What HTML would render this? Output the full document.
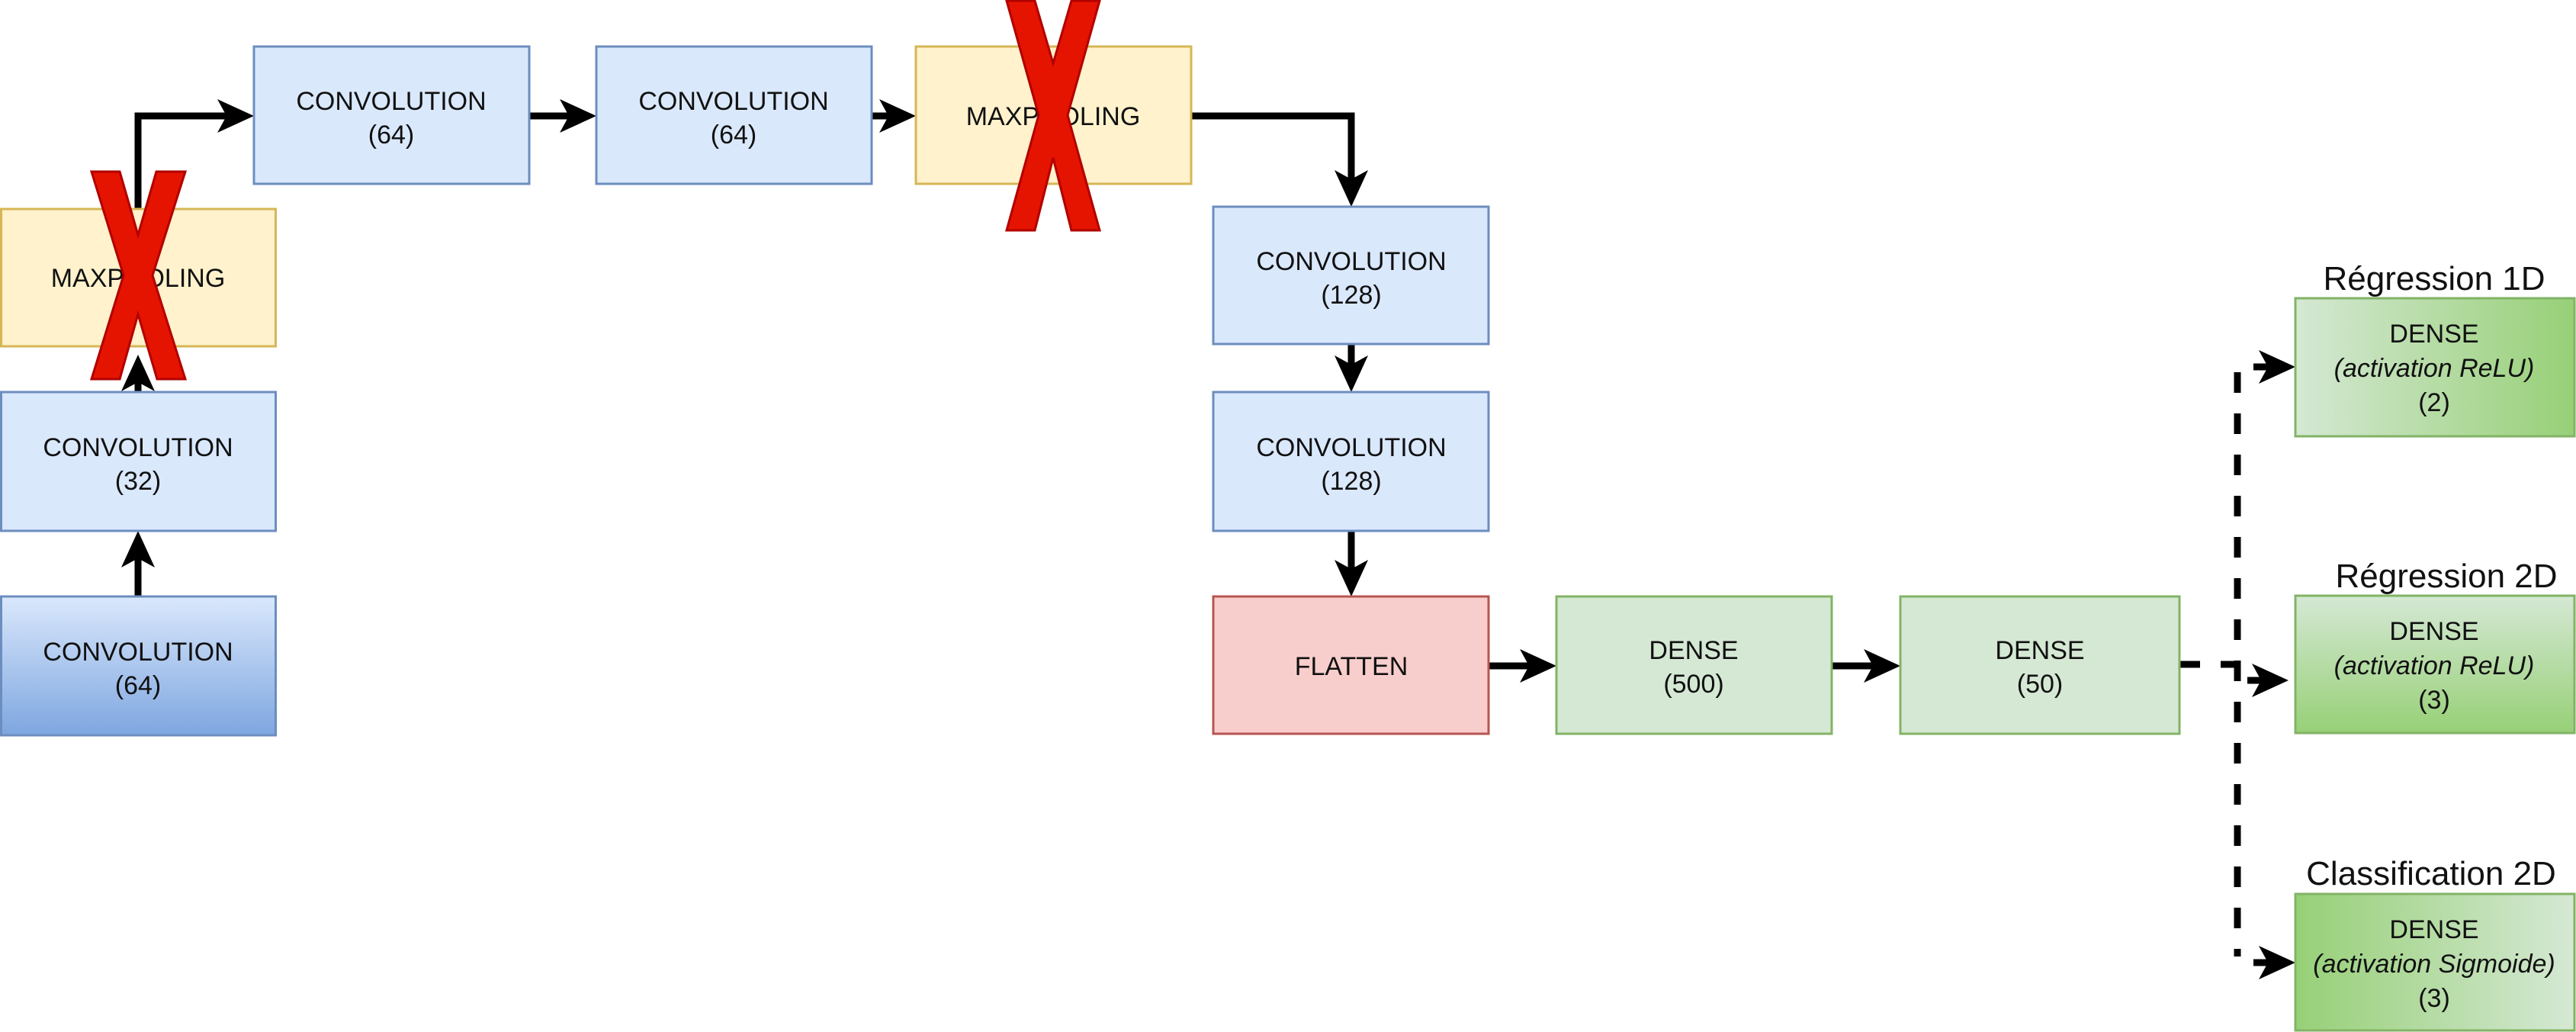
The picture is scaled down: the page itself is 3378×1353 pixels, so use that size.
<!DOCTYPE html>
<html><head><meta charset="utf-8"><style>
html,body{margin:0;padding:0;background:#fff;}
svg{display:block;}
text{font-family:"Liberation Sans",sans-serif;fill:#111;}
</style></head><body>
<svg width="3378" height="1353" viewBox="0 0 3378 1353" xmlns="http://www.w3.org/2000/svg">
<defs>
<linearGradient id="gb" x1="0" y1="0" x2="0" y2="1"><stop offset="0" stop-color="#dae8fc"/><stop offset="1" stop-color="#7ea6e0"/></linearGradient>
<linearGradient id="g1" x1="0" y1="0" x2="1" y2="0"><stop offset="0" stop-color="#d5e8d4"/><stop offset="1" stop-color="#97d077"/></linearGradient>
<linearGradient id="g2" x1="0" y1="0" x2="0" y2="1"><stop offset="0" stop-color="#d5e8d4"/><stop offset="1" stop-color="#97d077"/></linearGradient>
<linearGradient id="g3" x1="0" y1="0" x2="1" y2="0"><stop offset="0" stop-color="#97d077"/><stop offset="1" stop-color="#d5e8d4"/></linearGradient>
</defs>

<!-- connectors -->
<g stroke="#000" stroke-width="9" fill="none">
<path d="M181,782 V706"/>
<path d="M181,514 V475"/>
<path d="M181,274 V152 H299"/>
<path d="M694,152 H748"/>
<path d="M1143,152 H1167"/>
<path d="M1562,152 H1772 V237"/>
<path d="M1772,451 V480"/>
<path d="M1772,696 V748"/>
<path d="M1952,873 H2007"/>
<path d="M2402,873 H2458"/>
<path d="M2858,871 H2934 M2934,488 V1254" stroke-dasharray="27,27"/>
<path d="M2955,481 H2976"/>
<path d="M2947,892 H2967"/>
<path d="M2955,1262 H2976"/>
</g>
<g fill="#000">
<path d="M181,696 l-22,48 l22,-12 l22,12z"/>
<path d="M181,465 l-22,48 l22,-12 l22,12z"/>
<path d="M333,152 l-48,-22 l12,22 l-12,22z"/>
<path d="M782,152 l-48,-22 l12,22 l-12,22z"/>
<path d="M1201,152 l-48,-22 l12,22 l-12,22z"/>
<path d="M1772,271 l-22,-48 l22,12 l22,-12z"/>
<path d="M1772,514 l-22,-48 l22,12 l22,-12z"/>
<path d="M1772,782 l-22,-48 l22,12 l22,-12z"/>
<path d="M2041,873 l-48,-22 l12,22 l-12,22z"/>
<path d="M2492,873 l-48,-22 l12,22 l-12,22z"/>
<path d="M3010,481 l-48,-22 l12,22 l-12,22z"/>
<path d="M3001,892 l-48,-22 l12,22 l-12,22z"/>
<path d="M3010,1262 l-48,-22 l12,22 l-12,22z"/>
</g>

<!-- boxes -->
<g stroke-width="3">
<rect x="1.5" y="782" width="360" height="182" fill="url(#gb)" stroke="#6c8ebf"/>
<rect x="1.5" y="514" width="360" height="182" fill="#dae8fc" stroke="#6c8ebf"/>
<rect x="1.5" y="274" width="360" height="180" fill="#fff2cc" stroke="#d6b656"/>
<rect x="333" y="61" width="361" height="180" fill="#dae8fc" stroke="#6c8ebf"/>
<rect x="782" y="61" width="361" height="180" fill="#dae8fc" stroke="#6c8ebf"/>
<rect x="1201" y="61" width="361" height="180" fill="#fff2cc" stroke="#d6b656"/>
<rect x="1591" y="271" width="361" height="180" fill="#dae8fc" stroke="#6c8ebf"/>
<rect x="1591" y="514" width="361" height="182" fill="#dae8fc" stroke="#6c8ebf"/>
<rect x="1591" y="782" width="361" height="180" fill="#f8cecc" stroke="#b85450"/>
<rect x="2041" y="782" width="361" height="180" fill="#d5e8d4" stroke="#82b366"/>
<rect x="2492" y="782" width="366" height="180" fill="#d5e8d4" stroke="#82b366"/>
<rect x="3010" y="391" width="366" height="181" fill="url(#g1)" stroke="#82b366"/>
<rect x="3010" y="781" width="366" height="180" fill="url(#g2)" stroke="#82b366"/>
<rect x="3010" y="1172" width="366" height="179" fill="url(#g3)" stroke="#82b366"/>
</g>

<!-- text -->
<g font-size="34" text-anchor="middle">
<text x="181" y="866">CONVOLUTION</text><text x="181" y="910">(64)</text>
<text x="181" y="598">CONVOLUTION</text><text x="181" y="642">(32)</text>
<text x="181" y="376">MAXPOOLING</text>
<text x="513" y="144">CONVOLUTION</text><text x="513" y="188">(64)</text>
<text x="962" y="144">CONVOLUTION</text><text x="962" y="188">(64)</text>
<text x="1381" y="164">MAXPOOLING</text>
<text x="1772" y="354">CONVOLUTION</text><text x="1772" y="398">(128)</text>
<text x="1772" y="598">CONVOLUTION</text><text x="1772" y="642">(128)</text>
<text x="1772" y="885">FLATTEN</text>
<text x="2221" y="864">DENSE</text><text x="2221" y="908">(500)</text>
<text x="2675" y="864">DENSE</text><text x="2675" y="908">(50)</text>
<text x="3192" y="449">DENSE</text><text x="3192" y="494" font-style="italic">(activation ReLU)</text><text x="3192" y="539">(2)</text>
<text x="3192" y="839">DENSE</text><text x="3192" y="884" font-style="italic">(activation ReLU)</text><text x="3192" y="929">(3)</text>
<text x="3192" y="1230">DENSE</text><text x="3192" y="1275" font-style="italic">(activation Sigmoide)</text><text x="3192" y="1320">(3)</text>
</g>
<g font-size="44" text-anchor="middle">
<text x="3192" y="380">Régression 1D</text>
<text x="3208" y="770">Régression 2D</text>
<text x="3188" y="1160">Classification 2D</text>
</g>

<!-- red X -->
<g fill="#e51400" stroke="#b20000" stroke-width="3">
<polygon points="1320,1 1357,1 1381,83 1405,1 1442,1 1400,151 1442,302 1405,302 1381,207 1357,302 1320,302 1362,151"/>
<polygon points="120,225 157,225 181,308 205,225 243,225 200,361 243,497 206,497 181,412 157,497 120,497 162,361"/>
</g>
</svg>
</body></html>
